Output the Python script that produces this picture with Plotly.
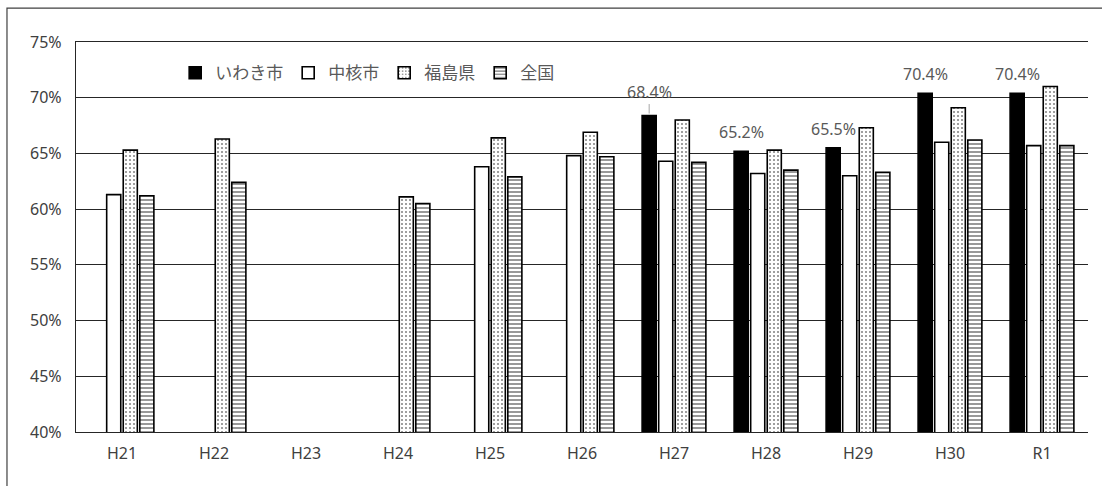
import plotly.graph_objects as go

categories = ["H21", "H22", "H23", "H24", "H25", "H26", "H27", "H28", "H29", "H30", "R1"]
iwaki = [None, None, None, None, None, None, 68.4, 65.2, 65.5, 70.4, 70.4]
chukaku = [61.3, None, None, None, 63.8, 64.8, 64.3, 63.2, 63.0, 66.0, 65.7]
fukushima = [65.3, 66.3, None, 61.1, 66.4, 66.9, 68.0, 65.3, 67.3, 69.1, 71.0]
zenkoku = [61.2, 62.4, None, 60.5, 62.9, 64.7, 64.2, 63.5, 63.3, 66.2, 65.7]
series_names = ["いわき市", "中核市", "福島県", "全国"]
y_ticks = [40, 45, 50, 55, 60, 65, 70, 75]

JP = "Noto Sans CJK JP"
TXT = "#595959"
BARGAP = 0.28

fig = go.Figure()
line = dict(color="black", width=1.6)
fig.add_bar(x=categories, y=iwaki, name=series_names[0],
            marker=dict(color="black", line=line))
fig.add_bar(x=categories, y=chukaku, name=series_names[1],
            marker=dict(color="white", line=line))
fig.add_bar(x=categories, y=fukushima, name=series_names[2],
            marker=dict(color="white", line=line,
                        pattern=dict(shape=".", fgcolor="black", bgcolor="white",
                                     size=4, solidity=0.2)))
fig.add_bar(x=categories, y=zenkoku, name=series_names[3],
            marker=dict(color="white", line=line,
                        pattern=dict(shape="-", fgcolor="black", bgcolor="white",
                                     size=4, solidity=0.4)))

# data labels for いわき市
slot = (1 - BARGAP) / 4
offset = -(1 - BARGAP) / 2 + slot / 2
for i, (c, v) in enumerate(zip(categories, iwaki)):
    if v is None:
        continue
    if c == "H27":
        fig.add_annotation(x=i + offset, y=v, xref="x", yref="y", text=f"{v}%",
                           showarrow=True, arrowhead=0, arrowwidth=1, arrowcolor="#a6a6a6",
                           ax=0, ay=-24, standoff=2,
                           font=dict(family="Noto Sans", size=16, color=TXT))
    else:
        fig.add_annotation(x=i + offset, y=v, xref="x", yref="y", text=f"{v}%",
                           showarrow=False, yanchor="bottom", yshift=6,
                           font=dict(family="Noto Sans", size=16, color=TXT))

# outer frame
fig.add_shape(type="rect", xref="paper", yref="paper",
              x0=-0.0682, x1=1.2, y0=-0.5, y1=1.087,
              line=dict(color="#404040", width=1.2), fillcolor="rgba(0,0,0,0)", layer="below")

fig.update_layout(
    width=1102, height=486,
    margin=dict(l=76, r=14, t=42, b=54),
    paper_bgcolor="white", plot_bgcolor="white",
    barmode="group", bargap=BARGAP, bargroupgap=0.15,
    font=dict(family="Noto Sans", size=16, color="#404040"),
    showlegend=True,
    legend=dict(orientation="h", x=0.098, y=0.92, xanchor="left", yanchor="middle",
                bgcolor="rgba(0,0,0,0)", font=dict(family=JP, size=17, color=TXT),
                itemwidth=30, traceorder="normal", tracegroupgap=0),
    xaxis=dict(type="category", showgrid=False, showline=True, mirror=True,
               linecolor="#262626", linewidth=1.3, ticks="",
               tickfont=dict(size=16, color="#404040")),
    yaxis=dict(range=[40, 75], tickvals=y_ticks, ticktext=[f"{t}%" for t in y_ticks],
               showgrid=True, gridcolor="#262626", gridwidth=1.3,
               zeroline=False, showline=True, linecolor="#262626", linewidth=1.3,
               ticks="", ticklen=0,
               tickfont=dict(size=16, color="#404040")),
)
fig.update_yaxes(ticklabelstandoff=10)
fig.update_xaxes(ticklabelstandoff=7)
fig.write_html("out.html", config={"displayModeBar": False},
               post_script="document.body.style.margin='0px';")
